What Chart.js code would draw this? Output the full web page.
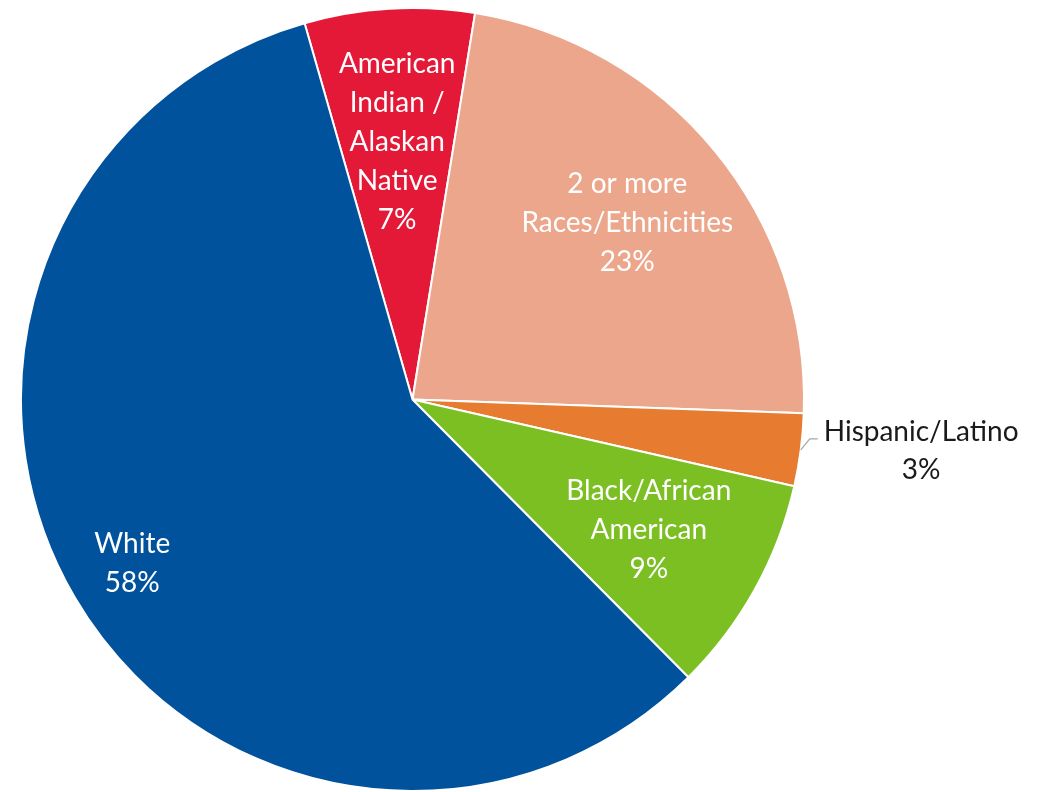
<!DOCTYPE html>
<html>
<head>
<meta charset="utf-8">
<script src="https://cdn.jsdelivr.net/npm/chart.js@4.4.1/dist/chart.umd.min.js"></script>
<style>
  html, body { margin: 0; padding: 0; background: #ffffff; }
  #wrap { width: 1054px; height: 792px; position: relative; }
</style>
</head>
<body>
<div id="wrap"><canvas id="c" width="1054" height="792"></canvas></div>
<script>
const categories = [
  ["American", "Indian /", "Alaskan", "Native"],
  ["2 or more", "Races/Ethnicities"],
  ["Hispanic/Latino"],
  ["Black/African", "American"],
  ["White"]
];
const values = [7, 23, 3, 9, 58];
const colors = ["#E31937", "#EBA68B", "#E77B2F", "#7BBF22", "#00529C"];
const labelFractions = [0.66, 0.71, null, 0.69, 0.83];
const FONT = "28px Lato, 'Open Sans', sans-serif";
const LINE_H = 39;

const labelPlugin = {
  id: 'sliceLabels',
  afterDatasetsDraw(chart) {
    const ctx = chart.ctx;
    const meta = chart.getDatasetMeta(0);
    const total = values.reduce((a, b) => a + b, 0);
    ctx.save();
    ctx.font = FONT;
    ctx.textBaseline = 'middle';
    ctx.textAlign = 'center';
    meta.data.forEach((arc, i) => {
      const p = arc.getProps(['x', 'y', 'startAngle', 'endAngle', 'outerRadius'], true);
      const mid = (p.startAngle + p.endAngle) / 2;
      const pct = Math.round(values[i] / total * 100) + '%';
      const lines = categories[i].concat([pct]);
      if (labelFractions[i] !== null) {
        const r = p.outerRadius * labelFractions[i];
        const cx = p.x + Math.cos(mid) * r;
        const cy = p.y + Math.sin(mid) * r;
        ctx.fillStyle = '#ffffff';
        const top = cy - (lines.length - 1) * LINE_H / 2;
        lines.forEach((t, k) => ctx.fillText(t, cx, top + k * LINE_H));
      } else {
        const sx = p.x + Math.cos(mid) * p.outerRadius;
        const sy = p.y + Math.sin(mid) * p.outerRadius;
        const ex = sx + 9, ey = sy - 11;
        const hx = ex + 8;
        ctx.strokeStyle = '#a6a6a6';
        ctx.lineWidth = 1.2;
        ctx.beginPath();
        ctx.moveTo(sx, sy);
        ctx.lineTo(ex, ey);
        ctx.lineTo(hx, ey);
        ctx.stroke();
        const w = ctx.measureText(lines[0]).width;
        const tx = hx + 6 + w / 2;
        ctx.fillStyle = '#1a1a1a';
        ctx.fillText(lines[0], tx, ey - 7);
        ctx.fillText(lines[1], tx, ey - 7 + 38);
      }
    });
    ctx.restore();
  }
};

new Chart(document.getElementById('c'), {
  type: 'pie',
  data: {
    labels: categories.map(c => c.join(' ')),
    datasets: [{
      data: values,
      backgroundColor: colors,
      borderColor: '#ffffff',
      borderWidth: 2,
      hoverOffset: 0
    }]
  },
  options: {
    responsive: false,
    animation: false,
    rotation: -16,
    layout: { padding: { left: 20, right: 249, top: 7, bottom: 0 } },
    plugins: {
      legend: { display: false },
      tooltip: { enabled: false }
    }
  },
  plugins: [labelPlugin]
});
</script>
</body>
</html>
